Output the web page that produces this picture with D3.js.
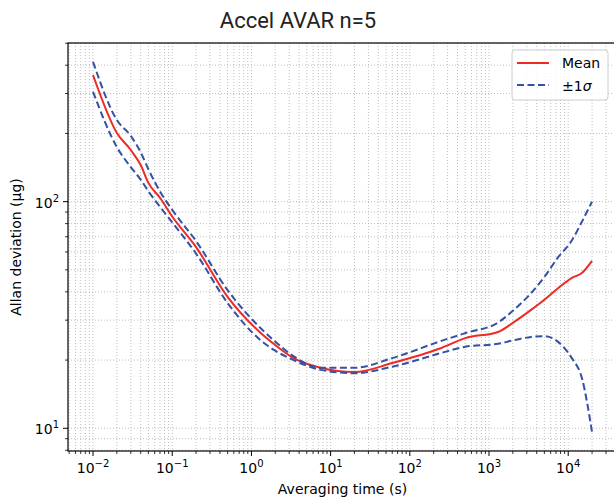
<!DOCTYPE html>
<html lang="en">
<head>
  <meta charset="UTF-8">
  <title>Accel AVAR n=5</title>
  <script src="https://d3js.org/d3.v7.min.js"></script>
  <style>
    body { margin: 0; background: #fff; }
    svg { display: block; }
    text { font-family: "DejaVu Sans", sans-serif; fill: #000; }
  </style>
</head>
<body>
<div id="chart"></div>
<script>
  // averaging times (s) and Allan deviation values (µg)
  const tau      = [0.01, 0.02, 0.03, 0.04, 0.05, 0.07, 0.1, 0.2, 0.5, 1.3, 2, 3.4, 7.5, 20, 60, 250, 500, 1300, 2000, 3400, 5000, 7500, 11000, 15000, 20000];
  const meanDev  = [362, 201, 169, 145, 121, 104, 86, 63, 38, 26.4, 23.3, 20.4, 18.5, 17.7, 19.4, 22.6, 25.0, 26.6, 29.2, 33.3, 36.9, 41.6, 46, 48.6, 54.8];
  const upperDev = [414, 229, 195, 165, 139, 111, 92, 67, 40.7, 27.7, 24.1, 20.8, 18.5, 18.5, 20.4, 24.3, 26.3, 29.3, 33.0, 39.5, 46.5, 57, 67, 82, 100];
  const lowerDev = [305, 174, 142, 125, 111, 95, 81, 59, 35.7, 24.5, 22, 20.0, 18.1, 17.5, 18.7, 21.5, 22.9, 23.6, 24.4, 25.3, 25.5, 24.0, 20.5, 16.5, 9.6];

  const xMajorTicks = [1e-2, 1e-1, 1e0, 1e1, 1e2, 1e3, 1e4];
  const xTickExp = ["−2", "−1", "0", "1", "2", "3", "4"];
  const yMajorTicks = [10, 100];
  const yTickExp = ["1", "2"];

  const width = 614, height = 500;
  const pLeft = 68, pRight = 617, pTop = 43, pBottom = 451;

  const svg = d3.select("#chart").append("svg")
      .attr("width", width)
      .attr("height", height);

  const x = d3.scaleLog().domain([Math.pow(10, -2.316), Math.pow(10, 4.616)]).range([pLeft, pRight]);
  const y = d3.scaleLog().domain([Math.pow(10, 0.8998), Math.pow(10, 2.700)]).range([pBottom, pTop]);

  // minor tick values (2..9 x 10^d) inside the domain
  function minorTicks(scale, d0, d1) {
    const out = [];
    const [lo, hi] = scale.domain();
    for (let d = d0; d <= d1; d++) {
      for (let k = 2; k <= 9; k++) {
        const v = k * Math.pow(10, d);
        if (v > lo && v < hi) out.push(v);
      }
    }
    return out;
  }
  const xMinor = minorTicks(x, -3, 4);
  const yMinor = minorTicks(y, 0, 2);

  svg.append("clipPath").attr("id", "plot-clip")
    .append("rect").attr("x", pLeft).attr("y", pTop)
    .attr("width", pRight - pLeft).attr("height", pBottom - pTop);

  // grid (major + minor, dotted)
  const grid = svg.append("g").attr("clip-path", "url(#plot-clip)");
  grid.selectAll(".gx").data(xMinor.concat(xMajorTicks)).enter().append("line")
      .attr("x1", d => x(d)).attr("x2", d => x(d))
      .attr("y1", pTop).attr("y2", pBottom)
      .attr("stroke", "#b8b8b8").attr("stroke-width", 0.9)
      .attr("stroke-dasharray", "1,2");
  grid.selectAll(".gy").data(yMinor.concat(yMajorTicks)).enter().append("line")
      .attr("x1", pLeft).attr("x2", pRight)
      .attr("y1", d => y(d)).attr("y2", d => y(d))
      .attr("stroke", "#b8b8b8").attr("stroke-width", 0.9)
      .attr("stroke-dasharray", "1,2");

  // curves
  const rows = tau.map((t, i) => ({t: t, mean: meanDev[i], up: upperDev[i], lo: lowerDev[i]}));
  const lineOf = key => d3.line()
      .x(d => x(d.t))
      .y(d => y(d[key]))
      .curve(d3.curveMonotoneX);

  const plot = svg.append("g").attr("clip-path", "url(#plot-clip)");
  plot.append("path").datum(rows)
      .attr("d", lineOf("mean"))
      .attr("fill", "none").attr("stroke", "#ee2a24").attr("stroke-width", 2);
  ["up", "lo"].forEach(k => {
    plot.append("path").datum(rows)
        .attr("d", lineOf(k))
        .attr("fill", "none").attr("stroke", "#3352a3").attr("stroke-width", 2)
        .attr("stroke-dasharray", "7,3.5");
  });

  // spines
  svg.append("rect")
      .attr("x", pLeft).attr("y", pTop)
      .attr("width", pRight - pLeft).attr("height", pBottom - pTop)
      .attr("fill", "none").attr("stroke", "#000").attr("stroke-width", 1.2);

  // ticks
  const axes = svg.append("g").attr("stroke", "#000").attr("stroke-width", 1);
  axes.selectAll(".xt").data(xMajorTicks).enter().append("line")
      .attr("x1", d => x(d)).attr("x2", d => x(d))
      .attr("y1", pBottom).attr("y2", pBottom + 5);
  axes.selectAll(".xm").data(xMinor).enter().append("line")
      .attr("x1", d => x(d)).attr("x2", d => x(d))
      .attr("y1", pBottom).attr("y2", pBottom + 3)
      .attr("stroke-width", 0.8);
  axes.selectAll(".yt").data(yMajorTicks).enter().append("line")
      .attr("x1", pLeft - 5).attr("x2", pLeft)
      .attr("y1", d => y(d)).attr("y2", d => y(d));
  axes.selectAll(".ym").data(yMinor).enter().append("line")
      .attr("x1", pLeft - 3).attr("x2", pLeft)
      .attr("y1", d => y(d)).attr("y2", d => y(d))
      .attr("stroke-width", 0.8);

  // tick labels 10^n
  const xl = svg.selectAll(".xl").data(xMajorTicks).enter().append("text")
      .attr("x", d => x(d)).attr("y", pBottom + 22)
      .attr("text-anchor", "middle")
      .style("font-size", "14px");
  xl.append("tspan").text("10");
  xl.append("tspan").attr("dy", -6).style("font-size", "10px").text((d, i) => xTickExp[i]);

  const yl = svg.selectAll(".yl").data(yMajorTicks).enter().append("text")
      .attr("x", pLeft - 9).attr("y", d => y(d) + 6)
      .attr("text-anchor", "end")
      .style("font-size", "14px");
  yl.append("tspan").text("10");
  yl.append("tspan").attr("dy", -6).style("font-size", "10px").text((d, i) => yTickExp[i]);

  // axis titles
  svg.append("text")
      .attr("x", (pLeft + pRight) / 2).attr("y", 494)
      .attr("text-anchor", "middle")
      .style("font-size", "14px")
      .text("Averaging time (s)");

  svg.append("text")
      .attr("transform", "translate(21," + ((pTop + pBottom) / 2) + ") rotate(-90)")
      .attr("text-anchor", "middle")
      .style("font-size", "14px")
      .text("Allan deviation (μg)");

  svg.append("text")
      .attr("x", 298).attr("y", 28)
      .attr("text-anchor", "middle")
      .style("font-family", "Roboto, sans-serif")
      .style("font-size", "22px")
      .style("fill", "#222")
      .text("Accel AVAR n=5");

  // legend
  const legend = svg.append("g");
  legend.append("rect")
      .attr("x", 512).attr("y", 50).attr("width", 96).attr("height", 50)
      .attr("rx", 3)
      .attr("fill", "#fff").attr("fill-opacity", 0.85)
      .attr("stroke", "#ccc");
  legend.append("line")
      .attr("x1", 517).attr("x2", 549).attr("y1", 63).attr("y2", 63)
      .attr("stroke", "#ee2a24").attr("stroke-width", 2);
  legend.append("text").attr("x", 562).attr("y", 68)
      .style("font-size", "14px").text("Mean");
  legend.append("line")
      .attr("x1", 517).attr("x2", 549).attr("y1", 85).attr("y2", 85)
      .attr("stroke", "#3352a3").attr("stroke-width", 2)
      .attr("stroke-dasharray", "7,3.5");
  const sig = legend.append("text").attr("x", 562).attr("y", 91)
      .style("font-size", "14px");
  sig.append("tspan").text("±1");
  sig.append("tspan").style("font-style", "italic").text("σ");
</script>
</body>
</html>
